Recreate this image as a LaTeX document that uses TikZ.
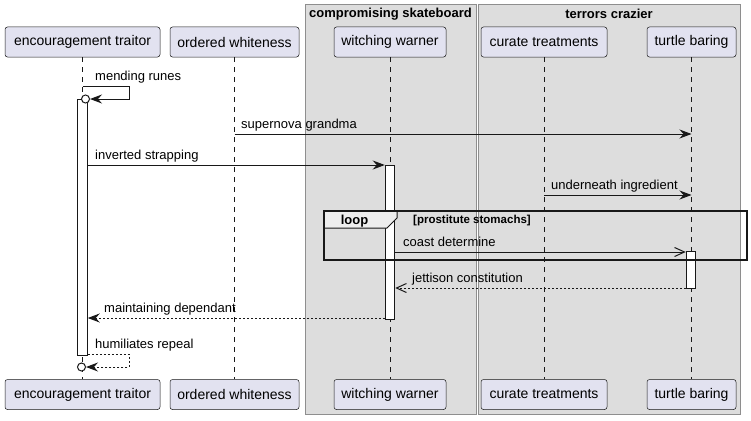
\documentclass[tikz,border=0pt]{standalone}
\usepackage{fontspec}
\setmainfont{Liberation Sans}
\usepackage{tikz}
\usetikzlibrary{arrows.meta}
\usepackage{xcolor}
\definecolor{partfill}{HTML}{E2E2F0}
\definecolor{linedark}{HTML}{181818}
\definecolor{boxfill}{HTML}{DDDDDD}
\definecolor{boxline}{HTML}{8E8E8E}
\definecolor{tabfill}{HTML}{EEEEEE}
\tikzset{
    part/.style={draw=linedark, line width=0.5pt, fill=partfill, rounded corners=2.5pt,
        minimum height=30pt, inner sep=0pt, font=\fontsize{14}{16}\selectfont},
    life/.style={draw=linedark, line width=0.5pt, dash pattern=on 5pt off 5pt},
    actbar/.style={draw=linedark, line width=1pt, fill=white, minimum width=9.5pt, inner sep=0pt},
    msg/.style={draw=linedark, line width=1pt, -{Stealth[length=12pt, width=9pt, inset=4pt]}},
    async/.style={draw=linedark, line width=1pt, -{Straight Barb[length=10pt, width=9pt]}},
    reply/.style={dash pattern=on 2pt off 2pt},
    lbl/.style={font=\fontsize{13}{15}\selectfont, inner sep=0pt, anchor=base west},
    grp/.style={draw=boxline, fill=boxfill, line width=1pt},
    grptitle/.style={font=\bfseries\fontsize{13}{15}\selectfont, inner sep=0pt},
    endcirc/.style={circle, draw=linedark, line width=1pt, fill=white, minimum size=8pt, inner sep=0pt}
}
\begin{document}
\begin{tikzpicture}[x=1pt, y=-1pt]
        \useasboundingbox (0, 0) rectangle (751, 420);
        % Boxes
        \draw [grp] (305, 5) rectangle (476, 414);
        \draw [grp] (478, 5) rectangle (740, 414);
        \node [grptitle] (gcs) at (390.5, 14) {compromising skateboard};
        \node [grptitle] (gtc) at (609, 14) {terrors crazier};
        % Participants
        \node [part, minimum width=155pt] (et) at (82.5, 42) {encouragement traitor};
        \node [part, minimum width=129pt] (ow) at (234.5, 42) {ordered whiteness};
        \node [part, minimum width=112pt] (ww) at (390, 42) {witching warner};
        \node [part, minimum width=126pt] (ct) at (544, 42) {curate treatments};
        \node [part, minimum width=89pt] (tb) at (691.5, 42) {turtle baring};
        \node [part, minimum width=155pt] (etb) at (82.5, 394.5) {encouragement traitor};
        \node [part, minimum width=129pt] (owb) at (234.5, 394.5) {ordered whiteness};
        \node [part, minimum width=112pt] (wwb) at (390, 394.5) {witching warner};
        \node [part, minimum width=126pt] (ctb) at (544, 394.5) {curate treatments};
        \node [part, minimum width=89pt] (tbb) at (691.5, 394.5) {turtle baring};
        % Lifelines
        \draw [life] (et) -- (etb);
        \draw [life] (ow) -- (owb);
        \draw [life] (ww) -- (wwb);
        \draw [life] (ct) -- (ctb);
        \draw [life] (tb) -- (tbb);
        % Activations
        \node [actbar, minimum height=256pt] (act1) at (82.5, 227) {};
        \node [actbar, minimum height=154pt] (act2) at (390, 242) {};
        \node [actbar, minimum height=37pt] (act3) at (691, 269.5) {};
        \node [endcirc] (c1) at (85.5, 99) {};
        \node [endcirc] (c2) at (81.5, 367) {};
        % Loop
        \draw [line width=1pt, draw=linedark, fill=tabfill] (324, 211) -- (397, 211) -- (397, 218)
            -- (387, 228) -- (324, 228) -- cycle;
        \draw [line width=1.5pt, draw=linedark] (324, 211) rectangle (747, 260);
        \node [grptitle, anchor=base] (lp) at (354.5, 224) {loop};
        \node [inner sep=0pt, anchor=base west, font=\bfseries\fontsize{11.5}{13}\selectfont] (lpc) at (413, 223) {[prostitute stomachs]};
        % Messages
        \draw [msg] (et |- 0, 86) -- (129, 86) -- (129, 99) -- (c1);
        \draw [msg] (ow |- 0, 134) -- (tb |- 0, 134);
        \draw [msg] (act1.east |- 0, 165) -- (act2.west |- 0, 165);
        \draw [msg] (ct |- 0, 195) -- (tb |- 0, 195);
        \draw [async] (act2.east |- 0, 252) -- (act3.west |- 0, 252);
        \draw [async, reply] (act3.west |- 0, 288) -- (act2.east |- 0, 288);
        \draw [msg, reply] (act2.west |- 0, 318) -- (act1.east |- 0, 318);
        \draw [msg, reply] (act1.east |- 0, 354) -- (129, 354) -- (129, 367) -- (c2);
        % Labels
        \node [lbl] (l1) at (95, 80.5) {mending runes};
        \node [lbl] (l2) at (241, 128.5) {supernova grandma};
        \node [lbl] (l3) at (95, 159.5) {inverted strapping};
        \node [lbl] (l4) at (551, 189.5) {underneath ingredient};
        \node [lbl] (l5) at (403, 246.5) {coast determine};
        \node [lbl] (l6) at (412, 282.5) {jettison constitution};
        \node [lbl] (l7) at (104, 312.5) {maintaining dependant};
        \node [lbl] (l8) at (95, 348.5) {humiliates repeal};
    \end{tikzpicture}
\end{document}
